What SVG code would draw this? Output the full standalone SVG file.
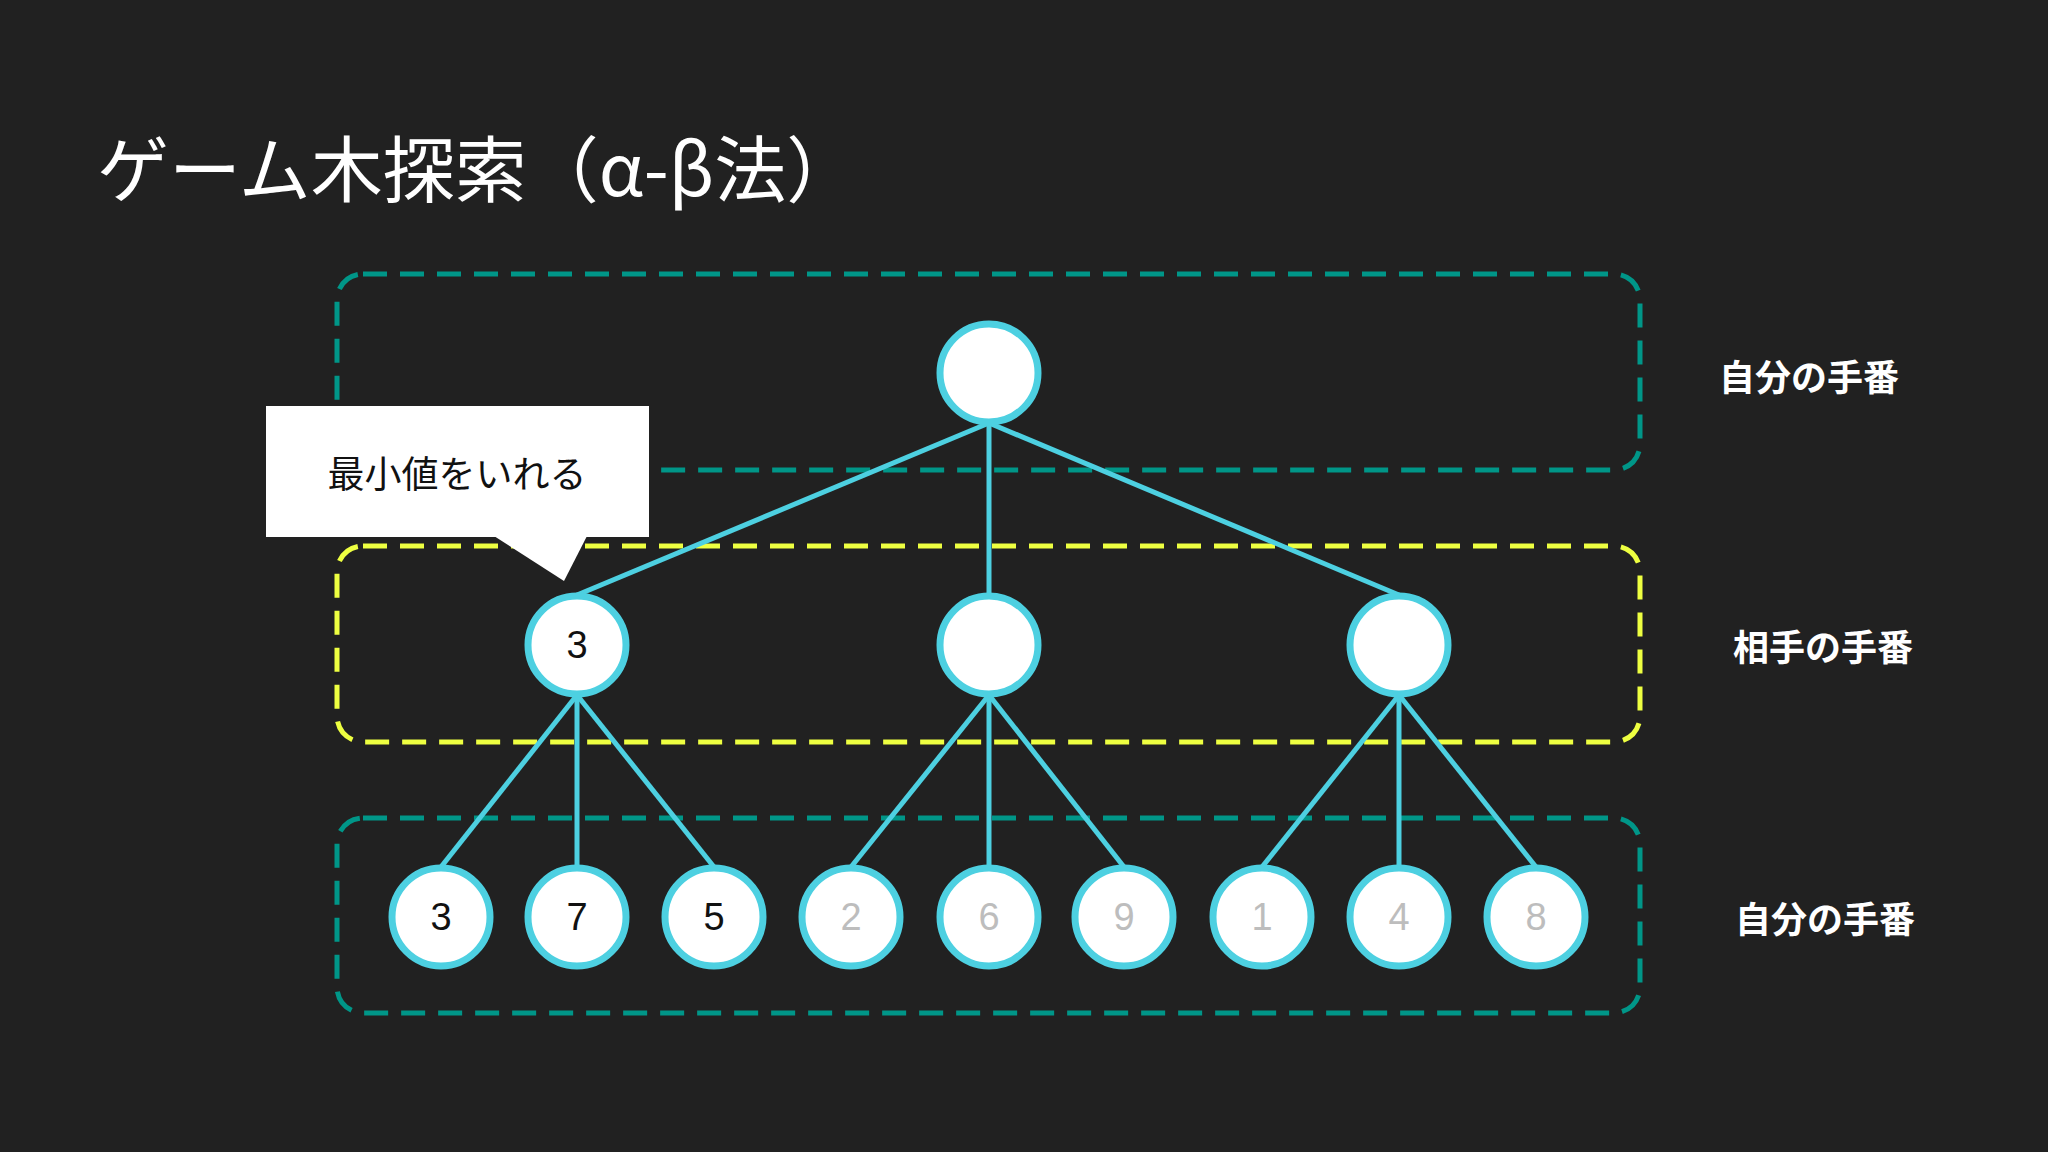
<svg xmlns="http://www.w3.org/2000/svg" width="2048" height="1152" viewBox="0 0 2048 1152">
<style>
.band{fill:none;stroke-width:5;stroke-dasharray:24 13}
.teal{stroke:#009688}
.yel{stroke:#eeff41}
.node{fill:#fff;stroke:#4dd0e1;stroke-width:7}
.edge{stroke:#4dd0e1;stroke-width:5}
.num{font-family:"Liberation Sans",Arial,sans-serif;font-size:38px;text-anchor:middle;dominant-baseline:central}
.blk{fill:#111}
.gry{fill:#bdbdbd}
.lbl{font-family:"Noto Sans CJK JP",sans-serif;font-size:36px;font-weight:bold;fill:#fff;text-anchor:middle;dominant-baseline:central}
</style>
<rect width="2048" height="1152" fill="#212121"/>
<text x="97" y="196" font-family="Noto Sans CJK JP,sans-serif" font-size="72" fill="#fff">ゲーム木探索（α-β法）</text>
<g id="bands">
<rect class="band teal" x="337" y="274" width="1303" height="196" rx="26"/>
<rect class="band yel" x="337" y="546" width="1303" height="196" rx="26"/>
<rect class="band teal" x="337" y="818" width="1303" height="195" rx="26"/>
</g>
<g id="connectors">
<line class="edge" x1="989" y1="423" x2="577" y2="595"/>
<line class="edge" x1="989" y1="423" x2="989" y2="595"/>
<line class="edge" x1="989" y1="423" x2="1399" y2="595"/>
<line class="edge" x1="577" y1="695" x2="441" y2="867"/>
<line class="edge" x1="577" y1="695" x2="577" y2="867"/>
<line class="edge" x1="577" y1="695" x2="714" y2="867"/>
<line class="edge" x1="989" y1="695" x2="851" y2="867"/>
<line class="edge" x1="989" y1="695" x2="989" y2="867"/>
<line class="edge" x1="989" y1="695" x2="1124" y2="867"/>
<line class="edge" x1="1399" y1="695" x2="1262" y2="867"/>
<line class="edge" x1="1399" y1="695" x2="1399" y2="867"/>
<line class="edge" x1="1399" y1="695" x2="1536" y2="867"/>
</g>
<g id="root"><circle class="node" cx="989" cy="373" r="49"/></g>
<g id="m1"><circle class="node" cx="577" cy="645" r="49"/><text class="num blk" x="577" y="645">3</text></g>
<g id="m2"><circle class="node" cx="989" cy="645" r="49"/></g>
<g id="m3"><circle class="node" cx="1399" cy="645" r="49"/></g>
<g id="l1"><circle class="node" cx="441" cy="917" r="49"/><text class="num blk" x="441" y="917">3</text></g>
<g id="l2"><circle class="node" cx="577" cy="917" r="49"/><text class="num blk" x="577" y="917">7</text></g>
<g id="l3"><circle class="node" cx="714" cy="917" r="49"/><text class="num blk" x="714" y="917">5</text></g>
<g id="l4"><circle class="node" cx="851" cy="917" r="49"/><text class="num gry" x="851" y="917">2</text></g>
<g id="l5"><circle class="node" cx="989" cy="917" r="49"/><text class="num gry" x="989" y="917">6</text></g>
<g id="l6"><circle class="node" cx="1124" cy="917" r="49"/><text class="num gry" x="1124" y="917">9</text></g>
<g id="l7"><circle class="node" cx="1262" cy="917" r="49"/><text class="num gry" x="1262" y="917">1</text></g>
<g id="l8"><circle class="node" cx="1399" cy="917" r="49"/><text class="num gry" x="1399" y="917">4</text></g>
<g id="l9"><circle class="node" cx="1536" cy="917" r="49"/><text class="num gry" x="1536" y="917">8</text></g>
<g id="callout">
<rect x="266" y="406" width="383" height="131" fill="#fff"/>
<polygon points="494,536 564,581 587,536" fill="#fff"/>
<text x="457" y="472" font-family="Noto Sans CJK JP,sans-serif" font-size="37" fill="#111" text-anchor="middle" dominant-baseline="central">最小値をいれる</text>
</g>
<g id="labels">
<text class="lbl" x="1809" y="375">自分の手番</text>
<text class="lbl" x="1823" y="645">相手の手番</text>
<text class="lbl" x="1825" y="917">自分の手番</text>
</g>
</svg>
